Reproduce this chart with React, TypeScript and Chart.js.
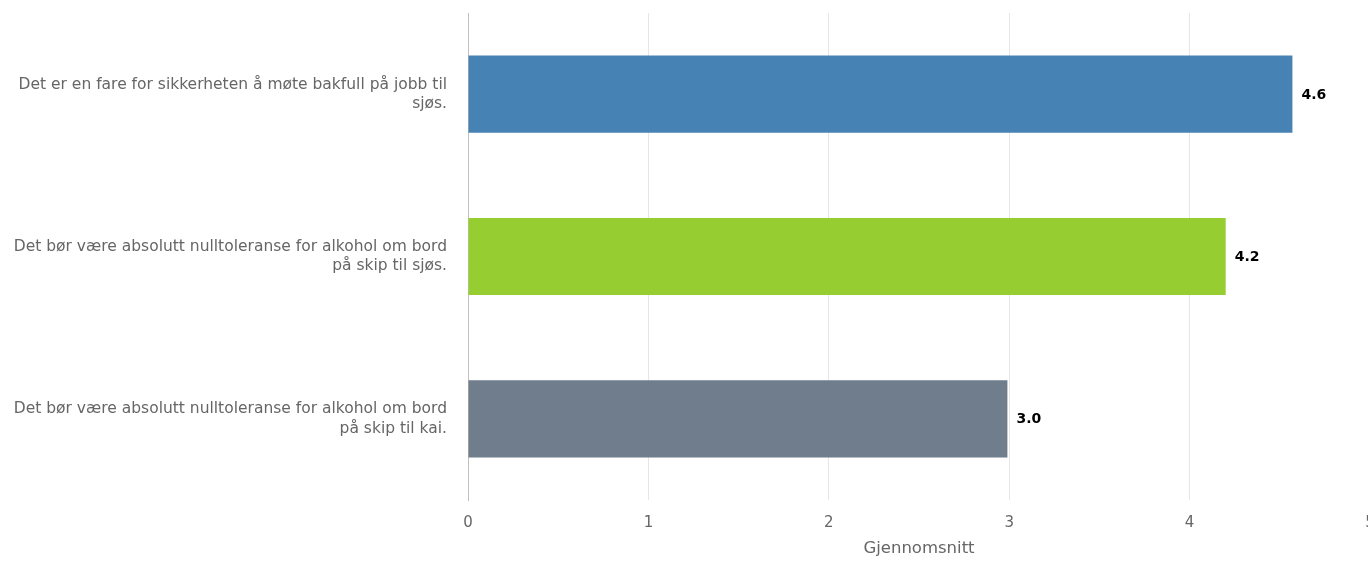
import React, { useEffect, useRef } from "react";
import { Chart, registerables } from "chart.js";

Chart.register(...registerables);

const categories: string[][] = [
  ["Det er en fare for sikkerheten å møte bakfull på jobb til", "sjøs."],
  ["Det bør være absolutt nulltoleranse for alkohol om bord", "på skip til sjøs."],
  ["Det bør være absolutt nulltoleranse for alkohol om bord", "på skip til kai."],
];
const values: number[] = [4.57, 4.2, 2.99];
const barColors: string[] = ["#4682B4", "#96CD30", "#6F7D8C"];
const xTicks: number[] = [0, 1, 2, 3, 4, 5];
const axisTitle = "Gjennomsnitt";

const FONT = "'DejaVu Sans', Verdana, sans-serif";

const valueLabels = {
  id: "valueLabels",
  afterDatasetsDraw(chart: any) {
    const ctx = chart.ctx;
    const meta = chart.getDatasetMeta(0);
    ctx.save();
    ctx.font = `bold 14px ${FONT}`;
    ctx.fillStyle = "#000";
    ctx.textAlign = "left";
    ctx.textBaseline = "middle";
    meta.data.forEach((el: any, i: number) => {
      ctx.fillText(values[i].toFixed(1), el.x + 9, el.y + 1);
    });
    ctx.restore();
  },
};

const zeroPad = (scale: any) => {
  scale.paddingTop = 0;
  scale.paddingBottom = 0;
  scale.paddingLeft = 0;
  scale.paddingRight = 0;
};

export default function App() {
  const ref = useRef<HTMLCanvasElement>(null);
  useEffect(() => {
    if (!ref.current) return;
    const chart = new Chart(ref.current, {
      type: "bar",
      data: {
        labels: categories,
        datasets: [
          {
            data: values,
            backgroundColor: barColors,
            categoryPercentage: 1,
            barPercentage: 0.475,
          },
        ],
      },
      options: {
        indexAxis: "y",
        responsive: false,
        animation: false,
        devicePixelRatio: 1,
        layout: { padding: { top: 13, right: 10, left: 0, bottom: 0 } },
        plugins: { legend: { display: false }, tooltip: { enabled: false } },
        scales: {
          x: {
            min: 0,
            max: 5,
            afterBuildTicks: (scale: any) => {
              scale.ticks = xTicks.map((v) => ({ value: v }));
            },
            afterFit: (scale: any) => {
              scale.height = 61;
              zeroPad(scale);
            },
            grid: { color: "#e6e6e6", drawTicks: false },
            border: { display: false },
            ticks: {
              padding: 14,
              color: "#666",
              font: { family: FONT, size: 15 },
            },
            title: {
              display: true,
              text: axisTitle,
              color: "#666",
              font: { family: FONT, size: 16.5 },
              padding: { top: 0, bottom: 2 },
            },
          },
          y: {
            afterFit: (scale: any) => {
              scale.width = 468;
              zeroPad(scale);
            },
            grid: { display: false, drawTicks: false },
            border: { display: true, color: "#c0c0c0", width: 1 },
            ticks: {
              padding: 21,
              color: "#666",
              font: { family: FONT, size: 15.5, lineHeight: 1.25 },
            },
          },
        },
      },
      plugins: [valueLabels],
    });
    return () => chart.destroy();
  }, []);
  return (
    <div style={{ position: "fixed", left: 0, top: 0, width: "100vw", height: "100vh", overflow: "hidden", background: "#fff" }}>
      <canvas ref={ref} width={1380} height={561} style={{ display: "block" }} />
    </div>
  );
}
